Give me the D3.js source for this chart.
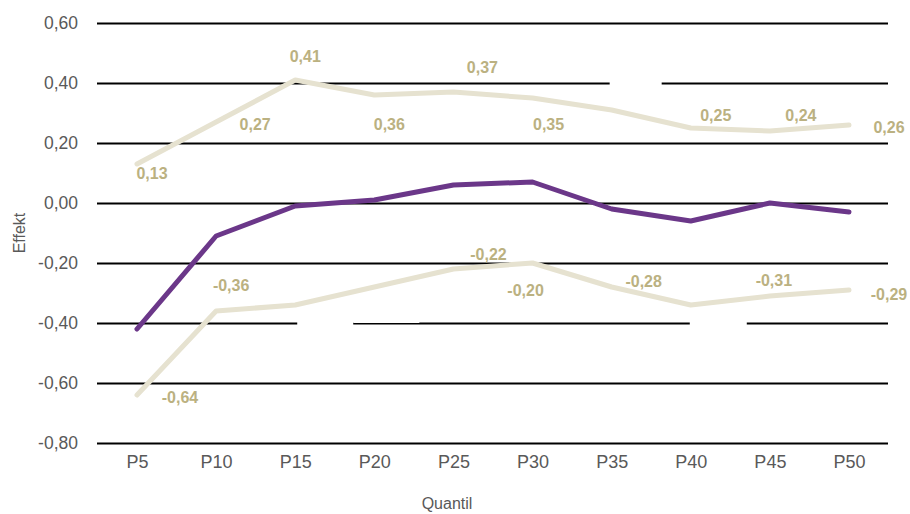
<!DOCTYPE html>
<html>
<head>
<meta charset="utf-8">
<script src="https://cdn.jsdelivr.net/npm/d3@7"></script>
<style>
  html, body { margin: 0; padding: 0; background: #fff; }
  svg { display: block; font-family: "Liberation Sans", Arial, sans-serif; }
</style>
</head>
<body>
<svg id="chart" width="910" height="514"></svg>
<script>
// Quantiles on the x axis
const categories = ["P5", "P10", "P15", "P20", "P25", "P30", "P35", "P40", "P45", "P50"];

// Effect estimate and the upper / lower bounds of its interval
const effect = [-0.42, -0.11, -0.01, 0.01, 0.06, 0.07, -0.02, -0.06, 0.00, -0.03];
const upper  = [0.13, 0.27, 0.41, 0.36, 0.37, 0.35, 0.31, 0.25, 0.24, 0.26];
const lower  = [-0.64, -0.36, -0.34, -0.28, -0.22, -0.20, -0.28, -0.34, -0.31, -0.29];

// Y axis ticks
const yTicks = [0.6, 0.4, 0.2, 0.0, -0.2, -0.4, -0.6, -0.8];

// Which bound values carry a printed label
const upperLabelled = [true, true, true, true, true, true, false, true, true, true];
const lowerLabelled = [true, true, false, false, true, true, true, false, true, true];

// ---- layout & styles ----
const W = 910, H = 514;
const plot = { left: 97, right: 888, top: 23, bottom: 443 };
const colors = { bound: "#e6e2d0", effect: "#6b3789", label: "#bbb181", text: "#595959" };

// Label offsets (dx, dy of text centre from the point), per bound series
const upperOffsets = [[15, 9], [39, 2], [10, -24], [15, 29], [29, -25], [16, 26], null, [25, -13], [31, -16], [40, 2]];
const lowerOffsets = [[43, 2], [15, -26], null, null, [35, -15], [-7, 27], [32, -6], null, [4, -16], [40, 4]];
// Blank label boxes (white fill) for unlabelled points: [dx0, dx1, dy0, dy1]
const upperBlank = [null, null, null, null, null, null, [-2, 50, -35, -19], null, null, null];
const lowerBlank = [null, null, [2, 58, 10, 26], [-21, 45, 20, 36], null, null, null, [-1, 56, 10, 26], null, null];

const locale = d3.formatLocale({ decimal: ",", thousands: ".", grouping: [3], currency: ["", ""], minus: "-" });
const fmt = locale.format(".2f");

const svg = d3.select("#chart");

const x = d3.scalePoint().domain(categories).range([137, 849]);
const y = d3.scaleLinear().domain([-0.8, 0.6]).range([plot.bottom, plot.top]);

// Gridlines + y tick labels
const yAxis = svg.append("g")
  .attr("transform", `translate(${plot.left},0)`)
  .call(d3.axisLeft(y).tickValues(yTicks).tickSize(-(plot.right - plot.left)).tickPadding(19).tickFormat(fmt));
yAxis.select(".domain").remove();
yAxis.selectAll(".tick line").attr("stroke", "#000").attr("stroke-width", 2);
yAxis.selectAll(".tick text")
  .attr("fill", colors.text)
  .style("font-size", "17.5px");

// X tick labels
const xAxis = svg.append("g")
  .attr("transform", `translate(0,${plot.bottom})`)
  .call(d3.axisBottom(x).tickSize(0).tickPadding(12));
xAxis.select(".domain").remove();
xAxis.selectAll(".tick text")
  .attr("fill", colors.text)
  .style("font-size", "18px");

// Axis titles
svg.append("text")
  .attr("x", 447).attr("y", 503)
  .attr("text-anchor", "middle").attr("dominant-baseline", "central")
  .attr("fill", colors.text).style("font-size", "16px")
  .text("Quantil");
svg.append("text")
  .attr("transform", "translate(19,233) rotate(-90)")
  .attr("text-anchor", "middle").attr("dominant-baseline", "central")
  .attr("fill", colors.text).style("font-size", "16px")
  .text("Effekt");

// Blank label boxes
function blanks(values, boxes) {
  svg.append("g").selectAll("rect")
    .data(values.map((v, i) => ({ v, i, b: boxes[i] })).filter(d => d.b))
    .join("rect")
    .attr("x", d => x(categories[d.i]) + d.b[0])
    .attr("width", d => d.b[1] - d.b[0])
    .attr("y", d => y(d.v) + d.b[2])
    .attr("height", d => d.b[3] - d.b[2])
    .attr("fill", "#fff");
}
blanks(upper, upperBlank);
blanks(lower, lowerBlank);

// Series lines
const line = d3.line().x((d, i) => x(categories[i])).y(d => y(d));
function drawLine(values, color) {
  svg.append("path")
    .datum(values)
    .attr("d", line)
    .attr("fill", "none")
    .attr("stroke", color)
    .attr("stroke-width", 5)
    .attr("stroke-linejoin", "round")
    .attr("stroke-linecap", "round");
}
drawLine(upper, colors.bound);
drawLine(lower, colors.bound);
drawLine(effect, colors.effect);

// Value labels on the bounds
function labels(values, shown, offsets) {
  svg.append("g").selectAll("text")
    .data(values.map((v, i) => ({ v, i, o: offsets[i] })).filter(d => shown[d.i] && d.o))
    .join("text")
    .attr("x", d => x(categories[d.i]) + d.o[0])
    .attr("y", d => y(d.v) + d.o[1])
    .attr("text-anchor", "middle")
    .attr("dominant-baseline", "central")
    .attr("fill", colors.label)
    .style("font-size", "16px")
    .style("font-weight", "bold")
    .text(d => fmt(d.v));
}
labels(upper, upperLabelled, upperOffsets);
labels(lower, lowerLabelled, lowerOffsets);
</script>
</body>
</html>
